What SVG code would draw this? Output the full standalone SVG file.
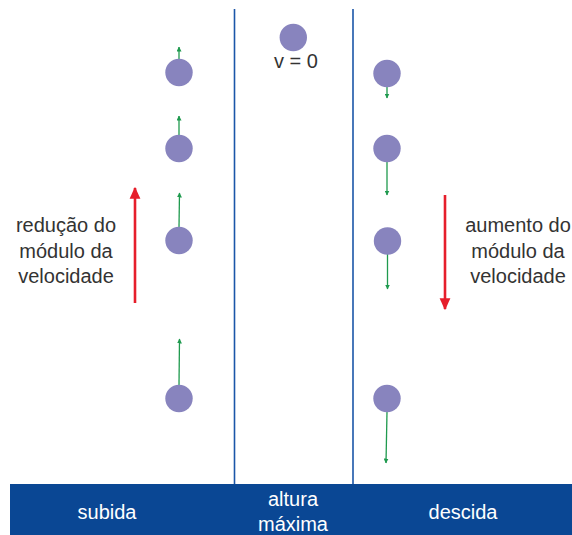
<svg xmlns="http://www.w3.org/2000/svg" width="572" height="535" viewBox="0 0 572 535">
<defs>
<style>
.ball{fill:#8884be}
.vel{stroke:#1f9a4e;stroke-width:1.3;fill:none}
.red{stroke:#e61e2b;stroke-width:2.6;fill:none}
.div{stroke:#1b56a8;stroke-width:1.6}
.lbl{font-family:"Liberation Sans",Arial,sans-serif;font-size:20px;fill:#333;text-anchor:middle}
.band{font-family:"Liberation Sans",Arial,sans-serif;font-size:20px;fill:#ffffff;text-anchor:middle}
</style>
<marker id="ga" viewBox="0 0 10 10" refX="9" refY="5" markerWidth="5" markerHeight="5" markerUnits="userSpaceOnUse" orient="auto"><path d="M0,0 L10,5 L0,10 Z" fill="#1f9a4e"/></marker>
<marker id="ra" viewBox="0 0 10 10" refX="9" refY="5" markerWidth="12" markerHeight="12" markerUnits="userSpaceOnUse" orient="auto"><path d="M0,0.5 L10,5 L0,9.5 Z" fill="#e61e2b"/></marker>
</defs>
<rect width="572" height="535" fill="#ffffff"/>
<g id="dividers">
<line class="div" x1="234.5" y1="9" x2="234.5" y2="484"/>
<line class="div" x1="353" y1="9" x2="353" y2="484"/>
</g>
<g id="band">
<rect x="10" y="484" width="562" height="51" fill="#0a4794"/>
<text class="band" x="107" y="519">subida</text>
<text class="band" x="293" y="506">altura</text>
<text class="band" x="293" y="531">máxima</text>
<text class="band" x="463" y="519">descida</text>
</g>
<g id="connectors">
<line class="vel" x1="179" y1="59" x2="179" y2="47" marker-end="url(#ga)"/>
<line class="vel" x1="179" y1="135" x2="179" y2="116" marker-end="url(#ga)"/>
<line class="vel" x1="179" y1="227" x2="179.5" y2="193" marker-end="url(#ga)"/>
<line class="vel" x1="179" y1="385" x2="179.5" y2="339" marker-end="url(#ga)"/>
<line class="vel" x1="387" y1="87" x2="387" y2="98" marker-end="url(#ga)"/>
<line class="vel" x1="387" y1="162" x2="387" y2="195" marker-end="url(#ga)"/>
<line class="vel" x1="387.5" y1="254" x2="387.5" y2="289" marker-end="url(#ga)"/>
<line class="vel" x1="387" y1="412" x2="386" y2="463" marker-end="url(#ga)"/>
<line class="red" x1="135" y1="303" x2="135" y2="188" marker-end="url(#ra)"/>
<line class="red" x1="445" y1="195" x2="445" y2="309" marker-end="url(#ra)"/>
</g>
<g id="top">
<circle class="ball" cx="293.3" cy="37.5" r="13.7"/>
<text class="lbl" x="296" y="68">v = 0</text>
</g>
<g id="up1"><circle class="ball" cx="179" cy="72.5" r="13.7"/></g>
<g id="up2"><circle class="ball" cx="179" cy="148.5" r="13.7"/></g>
<g id="up3"><circle class="ball" cx="179" cy="240.5" r="13.7"/></g>
<g id="up4"><circle class="ball" cx="179" cy="398.5" r="13.7"/></g>
<g id="down1"><circle class="ball" cx="387" cy="73.5" r="13.7"/></g>
<g id="down2"><circle class="ball" cx="387" cy="148.5" r="13.7"/></g>
<g id="down3"><circle class="ball" cx="387.5" cy="241" r="13.7"/></g>
<g id="down4"><circle class="ball" cx="387" cy="398.5" r="13.7"/></g>
<g id="left-label">
<text class="lbl" x="66" y="232">redução do</text>
<text class="lbl" x="66" y="257.5">módulo da</text>
<text class="lbl" x="66" y="283">velocidade</text>
</g>
<g id="right-label">
<text class="lbl" x="518" y="232">aumento do</text>
<text class="lbl" x="518" y="257.5">módulo da</text>
<text class="lbl" x="518" y="283">velocidade</text>
</g>
</svg>
